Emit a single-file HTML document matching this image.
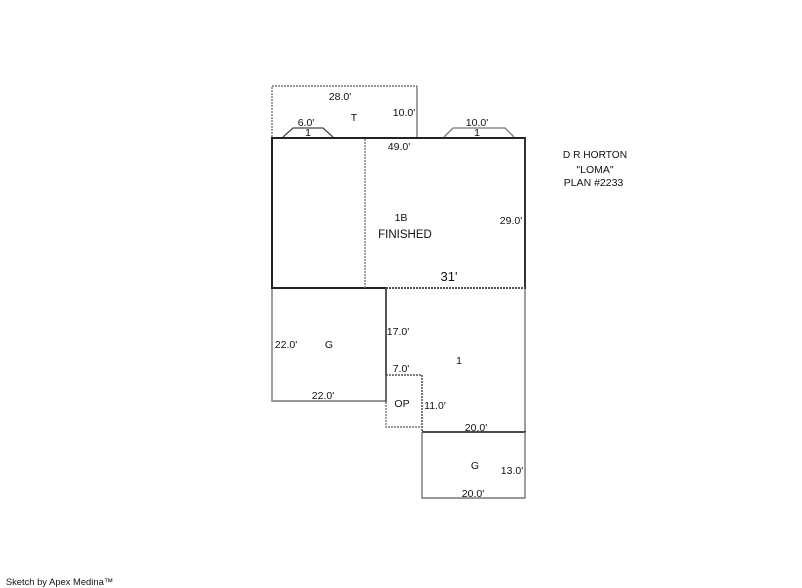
<!DOCTYPE html>
<html>
<head>
<meta charset="utf-8">
<style>
html,body{margin:0;padding:0;background:#fff;}
svg{display:block;}
text{font-family:"Liberation Sans",sans-serif;font-size:10.5px;fill:#111;text-anchor:middle;}
</style>
</head>
<body>
<svg width="802" height="588" viewBox="0 0 802 588" xmlns="http://www.w3.org/2000/svg">
<g fill="none">
  <!-- T dotted -->
  <path d="M272 137V86H417" stroke="#777" stroke-width="1.400" stroke-dasharray="2 1"/>
  <path d="M417 86V138" stroke="#777" stroke-width="1.400"/>
  <!-- main -->
  <path d="M271 138H526" stroke="#222" stroke-width="2"/>
  <path d="M272 137V289" stroke="#222" stroke-width="2"/>
  <path d="M271 288H386" stroke="#222" stroke-width="2"/>
  <path d="M525 137V289" stroke="#333" stroke-width="2"/>
  <path d="M386 288H525" stroke="#555" stroke-width="2" stroke-dasharray="2 1"/>
  <path d="M365 139V288" stroke="#777" stroke-width="1.400" stroke-dasharray="2 1"/>
  <!-- garage left -->
  <path d="M272 289V401H386" stroke="#777" stroke-width="1.400"/>
  <path d="M386 288V375" stroke="#444" stroke-width="1.800"/>
  <!-- 1 -->
  <path d="M525 289V432" stroke="#777" stroke-width="1.400"/>
  <!-- OP -->
  <path d="M386 375H422" stroke="#555" stroke-width="1.600" stroke-dasharray="2 1"/>
  <path d="M422 375V432" stroke="#555" stroke-width="1.600" stroke-dasharray="2 1"/>
  <path d="M386 375V402" stroke="#444" stroke-width="1.600"/>
  <path d="M386 402V427H422" stroke="#777" stroke-width="1.400" stroke-dasharray="2 1"/>
  <!-- G bottom -->
  <path d="M422 432H526" stroke="#333" stroke-width="1.800"/>
  <path d="M422 432V498H525V432" stroke="#777" stroke-width="1.400"/>
  <path d="M283 137L293 128H323L333 137" stroke="#444" stroke-width="1.300"/>
  <path d="M444 137L453 128H505L514 137" stroke="#777" stroke-width="1.300"/>
</g>
<text x="340" y="100">28.0'</text>
<text x="354" y="121">T</text>
<text x="404" y="116">10.0'</text>
<text x="306" y="126">6.0'</text>
<text x="308" y="136">1</text>
<text x="477" y="126">10.0'</text>
<text x="477" y="136">1</text>
<text x="399" y="150">49.0'</text>
<text x="401" y="221">1B</text>
<text x="405" y="238" style="font-size:11.500px">FINISHED</text>
<text x="511" y="224">29.0'</text>
<text x="449" y="281" style="font-size:13px">31'</text>
<text x="398" y="335">17.0'</text>
<text x="286" y="348">22.0'</text>
<text x="329" y="348">G</text>
<text x="459" y="364">1</text>
<text x="401" y="372">7.0'</text>
<text x="323" y="399">22.0'</text>
<text x="402" y="407">OP</text>
<text x="435" y="409">11.0'</text>
<text x="476" y="431">20.0'</text>
<text x="475" y="469">G</text>
<text x="512" y="474">13.0'</text>
<text x="473" y="497">20.0'</text>
<text x="595" y="158" style="font-size:10.200px">D R HORTON</text>
<text x="595" y="173">"LOMA"</text>
<text x="593.500" y="186">PLAN #2233</text>
<text x="59.500" y="585" style="font-size:9.400px">Sketch by Apex Medina™</text>
</svg>
</body>
</html>
